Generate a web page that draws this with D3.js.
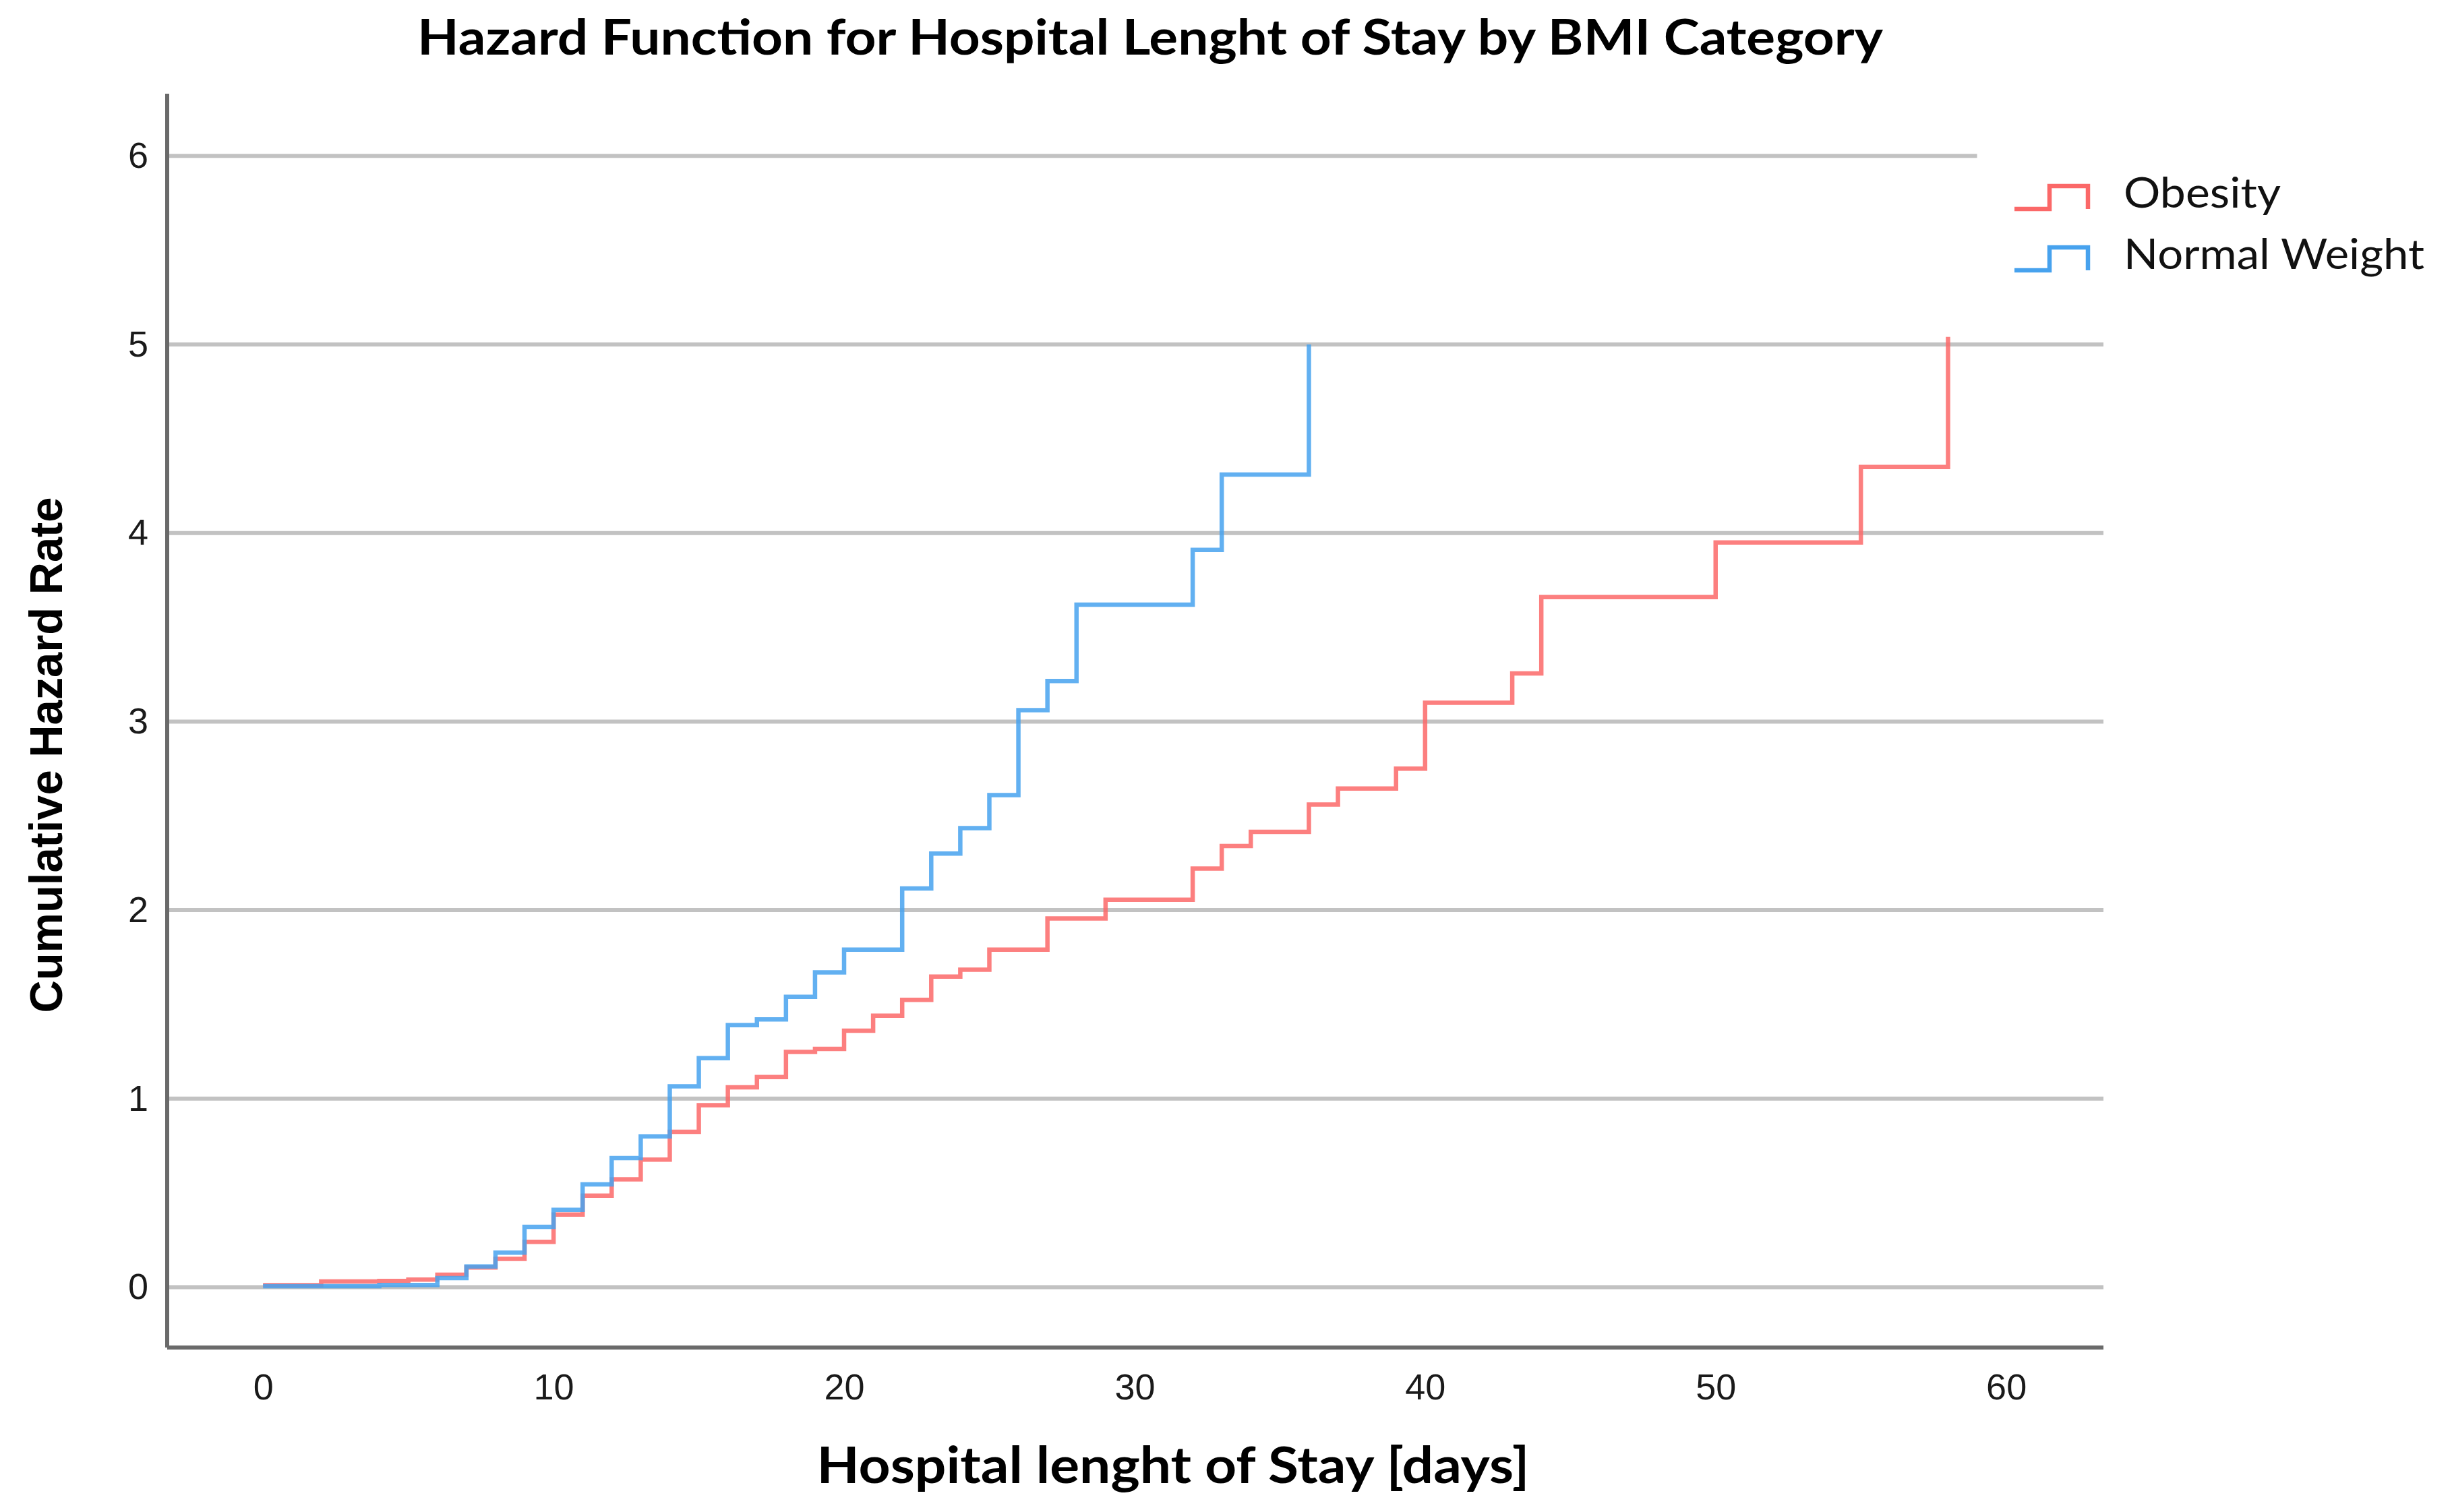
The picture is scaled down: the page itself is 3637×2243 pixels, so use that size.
<!DOCTYPE html>
<html>
<head>
<meta charset="utf-8">
<script src="https://cdn.jsdelivr.net/npm/d3@7"></script>
<style>
    body { margin: 0; background: #ffffff; }
</style>
</head>
<body>
<script>
// data (day of jump, cumulative hazard after the jump)
const obesityDays = [0, 2, 4, 5, 6, 7, 8, 9, 10, 11, 12, 13, 14, 15, 16, 17, 18, 19, 20, 21, 22, 23, 24, 25, 27, 29, 32, 33, 34, 36, 37, 39, 40, 43, 44, 50, 55, 58];
const obesityHazard = [0.011, 0.03, 0.033, 0.04, 0.066, 0.105, 0.15, 0.24, 0.385, 0.485, 0.572, 0.677, 0.824, 0.965, 1.06, 1.115, 1.248, 1.264, 1.36, 1.44, 1.524, 1.647, 1.684, 1.79, 1.956, 2.055, 2.22, 2.34, 2.415, 2.56, 2.645, 2.75, 3.10, 3.255, 3.66, 3.95, 4.35, 5.04];

const normalDays = [0, 4, 6, 7, 8, 9, 10, 11, 12, 13, 14, 15, 16, 17, 18, 19, 20, 22, 23, 24, 25, 26, 27, 28, 32, 33, 36];
const normalHazard = [0.005, 0.012, 0.048, 0.11, 0.183, 0.32, 0.41, 0.545, 0.685, 0.80, 1.065, 1.215, 1.39, 1.42, 1.54, 1.67, 1.79, 2.115, 2.30, 2.435, 2.61, 3.06, 3.215, 3.62, 3.91, 4.31, 5.0];

const seriesNames = ["Obesity", "Normal Weight"];
const seriesColors = ["#fb6868", "#47a2ee"];

const xTicks = [0, 10, 20, 30, 40, 50, 60];
const yTicks = [0, 1, 2, 3, 4, 5, 6];

let wSvg = 3637;
let hSvg = 2243;
let plotLeft = 248;
let plotRight = 3120;
let plotTop = 139;
let plotBottom = 1999;

let svg = d3
    .select("body")
    .append("svg")
    .attr("width", wSvg)
    .attr("height", hSvg);

let x = d3.scaleLinear().domain([-3.3, 63.35]).range([plotLeft, plotRight]);
let y = d3.scaleLinear().domain([-0.32, 6.33]).range([plotBottom, plotTop]);

// grid lines (the top one stops short, legend sits there)
svg.append("g")
    .selectAll("line")
    .data(yTicks)
    .join("line")
    .attr("x1", plotLeft)
    .attr("x2", (d) => (d === 6 ? x(59) : plotRight))
    .attr("y1", (d) => y(d))
    .attr("y2", (d) => y(d))
    .style("stroke", "#c2c2c2")
    .style("stroke-width", 6);

// axes
let xAxis = svg.append("g")
    .attr("transform", `translate(0,${plotBottom})`)
    .call(d3.axisBottom(x).tickValues(xTicks).tickFormat(d3.format("d")).tickSize(0).tickPadding(39));
let yAxis = svg.append("g")
    .attr("transform", `translate(${plotLeft},0)`)
    .call(d3.axisLeft(y).tickValues(yTicks).tickFormat(d3.format("d")).tickSize(0).tickPadding(28));

[xAxis, yAxis].forEach((a) => {
    a.select(".domain").remove();
    a.selectAll("text")
        .style("font-family", "'Liberation Sans', Arial, sans-serif")
        .style("font-size", "54px")
        .style("fill", "#1a1a1a");
});

// frame lines
svg.append("line")
    .attr("x1", plotLeft).attr("x2", plotLeft)
    .attr("y1", plotTop).attr("y2", plotBottom)
    .style("stroke", "#6a6a6a").style("stroke-width", 6);
svg.append("line")
    .attr("x1", plotLeft).attr("x2", plotRight)
    .attr("y1", plotBottom).attr("y2", plotBottom)
    .style("stroke", "#6a6a6a").style("stroke-width", 6);

// step curves
let series = [
    { name: seriesNames[0], color: seriesColors[0], points: obesityDays.map((d, i) => ({ day: d, h: obesityHazard[i] })) },
    { name: seriesNames[1], color: seriesColors[1], points: normalDays.map((d, i) => ({ day: d, h: normalHazard[i] })) },
];

let line = d3.line()
    .x((d) => x(d.day))
    .y((d) => y(d.h))
    .curve(d3.curveStepAfter);

svg.append("g")
    .selectAll("path")
    .data(series)
    .join("path")
    .attr("d", (d) => line(d.points))
    .style("fill", "none")
    .style("stroke", (d) => d.color)
    .style("stroke-width", 6.5)
    .style("stroke-opacity", 0.85);

// legend
let legend = svg.append("g")
    .selectAll("g")
    .data(series)
    .join("g")
    .attr("transform", (d, i) => `translate(2988,${308 + i * 91})`);

legend.append("path")
    .attr("d", "M0,2 L52,2 L52,-32 L109,-32 L109,2")
    .style("fill", "none")
    .style("stroke", (d) => d.color)
    .style("stroke-width", 6.5);

legend.append("text")
    .attr("x", 162)
    .attr("y", 0)
    .attr("textLength", (d, i) => (i === 0 ? 233 : 446))
    .attr("lengthAdjust", "spacingAndGlyphs")
    .style("font-family", "Lato, 'Open Sans', sans-serif")
    .style("font-size", "62px")
    .style("fill", "#111")
    .text((d) => d.name);

// titles
svg.append("text")
    .attr("x", 1706)
    .attr("y", 81)
    .attr("text-anchor", "middle")
    .attr("textLength", 2174)
    .attr("lengthAdjust", "spacingAndGlyphs")
    .style("font-family", "Lato, sans-serif")
    .style("font-weight", "bold")
    .style("font-size", "72px")
    .text("Hazard Function for Hospital Lenght of Stay by BMI Category");

svg.append("text")
    .attr("x", 1740)
    .attr("y", 2200)
    .attr("text-anchor", "middle")
    .attr("textLength", 1057)
    .attr("lengthAdjust", "spacingAndGlyphs")
    .style("font-family", "Lato, sans-serif")
    .style("font-weight", "bold")
    .style("font-size", "75px")
    .text("Hospital lenght of Stay [days]");

svg.append("text")
    .attr("transform", "translate(92,1120) rotate(-90)")
    .attr("text-anchor", "middle")
    .attr("textLength", 765)
    .attr("lengthAdjust", "spacingAndGlyphs")
    .style("font-family", "'Liberation Sans', Arial, sans-serif")
    .style("font-weight", "bold")
    .style("font-size", "68px")
    .text("Cumulative Hazard Rate");
</script>
</body>
</html>
